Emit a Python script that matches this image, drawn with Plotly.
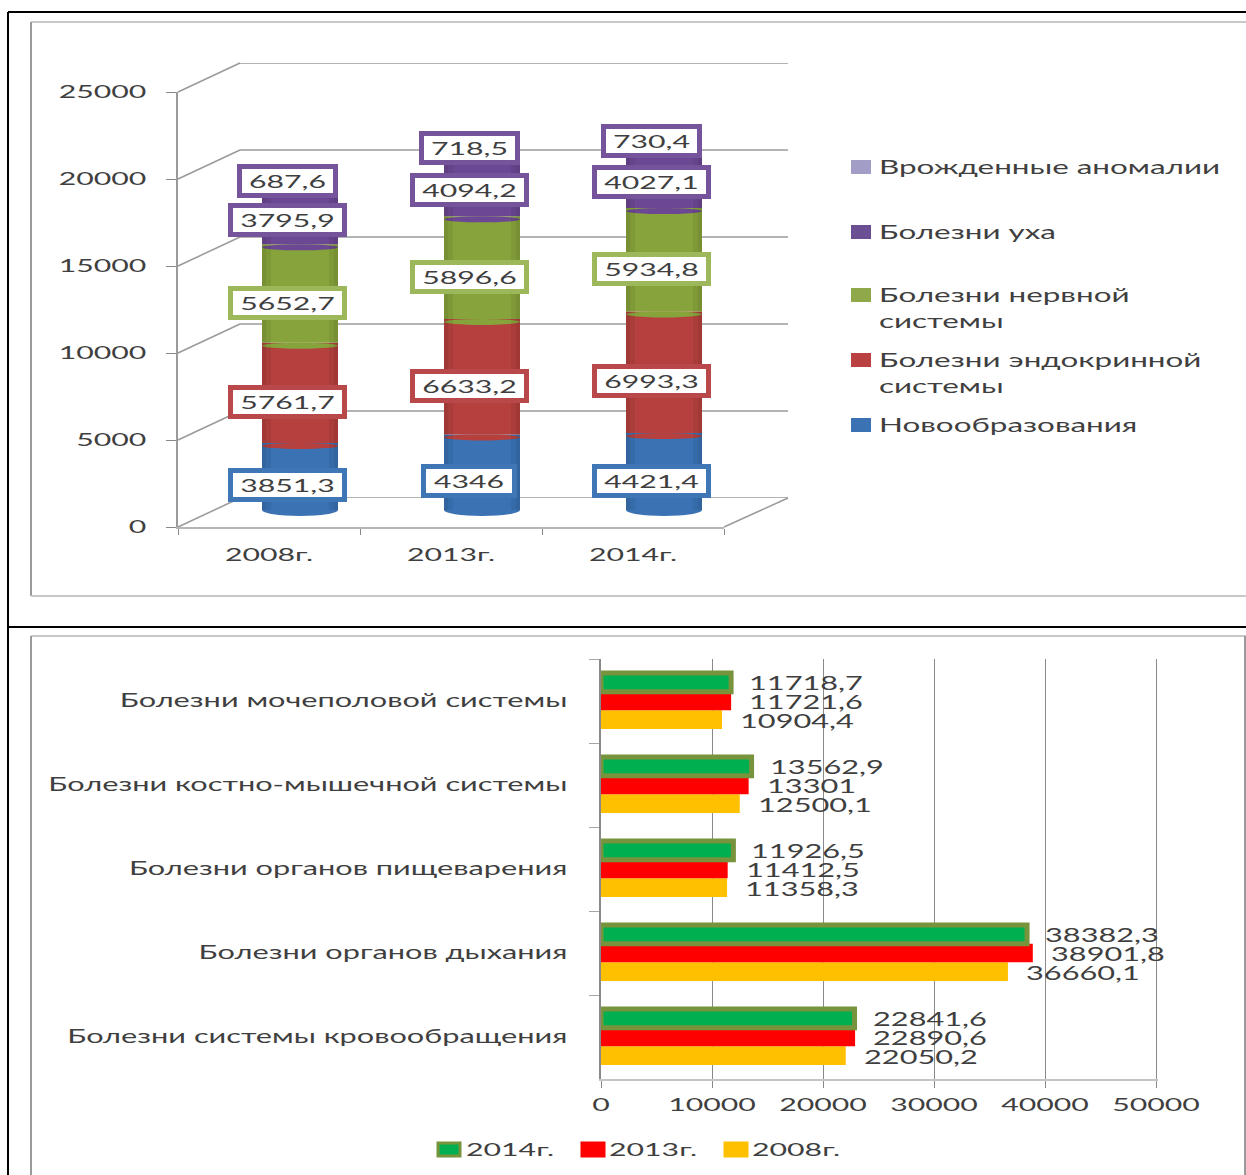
import plotly.graph_objects as go

W, H = 1246, 1175
FONT = "Lato"
TXT = "#3f3f3f"
GRID = "#9a9a9a"
STRETCH = 1.68

# ---- top chart data ----
years_top = ["2008г.", "2013г.", "2014г."]
neoplasms = [3851.3, 4346, 4421.4]
endocrine = [5761.7, 6633.2, 6993.3]
nervous = [5652.7, 5896.6, 5934.8]
ear = [3795.9, 4094.2, 4027.1]
congenital = [687.6, 718.5, 730.4]
top_names = ["Новообразования", "Болезни эндокринной<br>системы",
             "Болезни нервной<br>системы", "Болезни уха", "Врожденные аномалии"]
top_colors = ["#3a72b4", "#b5403d", "#87a33c", "#6c4793", "#a19dc6"]
top_borders = ["#3f76b5", "#b9484b", "#9db85a", "#75549c", "#75549c"]
top_legend_colors = ["#3a72b4", "#b9413f", "#8fa84a", "#6b4f92", "#a19dc6"]
top_ticks = [0, 5000, 10000, 15000, 20000, 25000]

# ---- bottom chart data ----
groups = ["Болезни системы кровообращения", "Болезни органов дыхания",
          "Болезни органов пищеварения", "Болезни костно-мышечной системы",
          "Болезни мочеполовой системы"]
y2008 = [22050.2, 36660.1, 11358.3, 12500.1, 10904.4]
y2013 = [22890.6, 38901.8, 11412.5, 13301, 11721.6]
y2014 = [22841.6, 38382.3, 11926.5, 13562.9, 11718.7]
bottom_ticks = [0, 10000, 20000, 30000, 40000, 50000]


def px(x):
    return x / W


def py(y):
    return 1 - y / H


def lab(v):
    return str(v).replace(".", ",")


fig = go.Figure()
shapes, notes = [], []
series = [neoplasms, endocrine, nervous, ear, congenital]

# stacked cylinders
bar_w = 76 / 182
unit = 5000 / 87  # value per pixel on the bar axis
bases = [0, 0, 0]
side_shapes = []
for s, (name, vals, col, bcol) in enumerate(zip(top_names, series, top_colors, top_borders)):
    fig.add_trace(go.Bar(x=years_top, y=vals, base=list(bases), width=bar_w,
                         marker=dict(color=col, line=dict(width=0)),
                         name=name.replace("<br>", " "), xaxis="x3", yaxis="y3",
                         showlegend=False))
    for i, v in enumerate(vals):
        dy = 6 if s == 0 else 3
        mid = bases[i] - (0 if s == 0 else 3 * unit)
        shapes.append(dict(type="circle", xref="x3", yref="y3", layer="above",
                           x0=i - bar_w / 2, x1=i + bar_w / 2,
                           y0=mid - dy * unit, y1=mid + dy * unit,
                           fillcolor=col, line=dict(width=0)))
        t = lab(v)
        notes.append(dict(x=years_top[i], y=bases[i] + v / 2, xref="x3", yref="y3",
                          text=t, showarrow=False, xshift=-13, yshift=-9,
                          bgcolor="white", bordercolor=bcol, borderwidth=5, borderpad=0,
                          width={6: 109, 5: 91, 4: 86}[len(t)], height=24,
                          font=dict(family=FONT, size=18, color=TXT)))
        bases[i] += v

# darker sides give the bars their rounded look
for i, top in enumerate(bases):
    for frac in (4 / 182, 9 / 182):
        for a, b in ((i - bar_w / 2, i - bar_w / 2 + frac), (i + bar_w / 2 - frac, i + bar_w / 2)):
            shapes.append(dict(type="rect", xref="x3", yref="y3", layer="above", x0=a, x1=b,
                               y0=0, y1=top, fillcolor="rgba(0,0,0,0.06)", line=dict(width=0)))

# horizontal bars
bh = 56 / 84 / 3
for name, vals, col, off, line, shift in [
    ("2008г.", y2008, "#FFC000", -1.5, dict(width=0), -19.6),
    ("2013г.", y2013, "#FF0000", -0.5, dict(width=0), -1),
    ("2014г.", y2014, "#00B050", 0.5, dict(width=5, color="#77933C"), 17.6),
]:
    fig.add_trace(go.Bar(y=groups, x=vals, orientation="h", width=bh, offset=off * bh,
                         marker=dict(color=col, line=line), name=name,
                         xaxis="x4", yaxis="y4", showlegend=False))
    for g, v in zip(groups, vals):
        notes.append(dict(x=v, y=g, xref="x4", yref="y4", text=lab(v), showarrow=False,
                          xanchor="left", align="left", xshift=16, yshift=shift,
                          font=dict(family=FONT, size=18.3, color=TXT)))

# invisible traces keep the helper axes alive
fig.add_trace(go.Bar(x=years_top, y=[0, 0, 0], xaxis="x", yaxis="y", showlegend=False))
fig.add_trace(go.Bar(x=years_top, y=[0, 0, 0], xaxis="x2", yaxis="y2", showlegend=False))

# walls of the 3D box
for t in top_ticks:
    yy = 527 - t / 25000 * 435
    shapes.append(dict(type="line", xref="paper", yref="paper", x0=px(178), x1=px(240),
                       y0=py(yy), y1=py(yy - 29), line=dict(color=GRID, width=1.5),
                       layer="below"))
    shapes.append(dict(type="line", xref="paper", yref="y2", x0=px(240), x1=px(788),
                       y0=t, y1=t, line=dict(color=GRID, width=1.5), layer="below"))
shapes.append(dict(type="line", xref="paper", yref="paper", x0=px(724), x1=px(788),
                   y0=py(527), y1=py(498), line=dict(color=GRID, width=1.5), layer="below"))

# frames
def frame(x0, y0, x1, y1, c, w):
    shapes.append(dict(type="line", xref="paper", yref="paper", x0=px(x0), x1=px(x1),
                       y0=py(y0), y1=py(y1), line=dict(color=c, width=w), layer="below"))


frame(8, 12, 1246, 12, "#000000", 2)
frame(8, 12, 8, 1175, "#000000", 2)
frame(8, 627, 1246, 627, "#000000", 2)
frame(31, 22, 1246, 22, "#c8c8c8", 2)
frame(31, 22, 31, 596, "#9a9a9a", 2)
frame(31, 596, 1246, 596, "#c8c8c8", 2)
frame(31, 636, 1246, 636, "#c8c8c8", 2)
frame(31, 636, 31, 1175, "#9a9a9a", 2)
frame(1245, 636, 1245, 1175, "#9a9a9a", 2)

# top legend
legend_y = [425, 360, 295, 232, 167]
for name, col, yy in zip(top_names, top_legend_colors, legend_y):
    shapes.append(dict(type="rect", xref="paper", yref="paper", x0=px(851), x1=px(871),
                       y0=py(yy - 7), y1=py(yy + 7), fillcolor=col, line=dict(width=0)))
    for k, part in enumerate(name.split("<br>")):
        notes.append(dict(x=px(877), y=py(yy + k * 26), xref="paper", yref="paper", text=part,
                          showarrow=False, xanchor="left", align="left", yanchor="middle",
                          font=dict(family=FONT, size=18.7, color=TXT)))

# bottom legend
for name, col, x0, x1, tx, lc in [
    ("2014г.", "#00B050", 438, 460, 464, "#77933C"),
    ("2013г.", "#FF0000", 582, 604, 607, "#FF0000"),
    ("2008г.", "#FFC000", 725, 747, 750, "#FFC000"),
]:
    shapes.append(dict(type="rect", xref="paper", yref="paper", x0=px(x0), x1=px(x1),
                       y0=py(1143), y1=py(1156), fillcolor=col, line=dict(color=lc, width=3)))
    notes.append(dict(x=px(tx), y=py(1149), xref="paper", yref="paper", text=name,
                      showarrow=False, xanchor="left", align="left", yanchor="middle",
                      font=dict(family=FONT, size=18, color=TXT)))

tickf = dict(family=FONT, size=18, color=TXT)
hidden = dict(showgrid=False, zeroline=False, showticklabels=False, ticks="", showline=False,
              automargin=False)
fig.update_layout(
    template="none",
    width=W, height=H, margin=dict(l=0, r=0, t=0, b=0, pad=0), autosize=False,
    paper_bgcolor="white", plot_bgcolor="rgba(0,0,0,0)", barmode="overlay",
    showlegend=False, shapes=shapes, annotations=notes,
    xaxis=dict(domain=[px(178), px(724)], range=[-0.5, 2.5], type="category", automargin=False,
               categoryarray=years_top, tickson="boundaries", ticks="outside", ticklen=6,
               tickcolor="#888888", showline=True, linecolor="#b5b5b5", linewidth=2,
               showgrid=False, tickfont=tickf, anchor="y", ticklabelstandoff=10),
    yaxis=dict(domain=[py(527), py(92)], range=[0, 25000], tickvals=top_ticks, automargin=False,
               tickformat="d", ticks="outside", ticklen=10, tickcolor="#888888",
               showline=True, linecolor="#9a9a9a", linewidth=2, showgrid=False,
               zeroline=False, tickfont=tickf, anchor="x", ticklabelstandoff=16),
    xaxis2=dict(domain=[px(240), px(788)], range=[-0.5, 2.5], type="category",
                anchor="y2", **hidden),
    yaxis2=dict(domain=[py(498), py(63)], range=[0, 25000], anchor="x2", **hidden),
    xaxis3=dict(domain=[px(209), px(755)], range=[-0.5, 2.5], type="category",
                categoryarray=years_top, anchor="y3", **hidden),
    yaxis3=dict(domain=[py(520), py(75)], range=[-575, 25000], anchor="x3", **hidden),
    xaxis4=dict(domain=[px(601), px(1158)], range=[0, 50180], tickvals=bottom_ticks, automargin=False,
                tickformat="d", showgrid=True, gridcolor="#8a8a8a", gridwidth=1,
                zeroline=False, ticks="outside", ticklen=7, tickcolor="#8a8a8a",
                showline=True, linecolor="#c4c4c4", linewidth=2, tickfont=tickf,
                anchor="y4", ticklabelstandoff=1),
    yaxis4=dict(domain=[py(1079), py(659)], range=[-0.5, 4.5], type="category", automargin=False,
                categoryarray=groups, tickson="boundaries", ticks="outside", ticklen=10,
                tickcolor="#a5a5a5", showline=True, linecolor="#8a8a8a", linewidth=2,
                showgrid=False, zeroline=False,
                tickfont=dict(family=FONT, size=18.3, color=TXT), anchor="x4",
                ticklabelstandoff=28),
)

post = """
document.body.style.margin='0';
document.documentElement.style.overflow='hidden';
var gd=document.getElementById('{plot_id}');
gd.style.position='fixed';gd.style.left='0';gd.style.top='0';
document.querySelectorAll('.main-svg text').forEach(function(t){
  var l=t.getComputedTextLength();
  if(l>0){t.setAttribute('textLength',l*%s);t.setAttribute('lengthAdjust','spacingAndGlyphs');}
});
""" % STRETCH
fig.write_html("out.html", post_script=post, config={"displayModeBar": False})
